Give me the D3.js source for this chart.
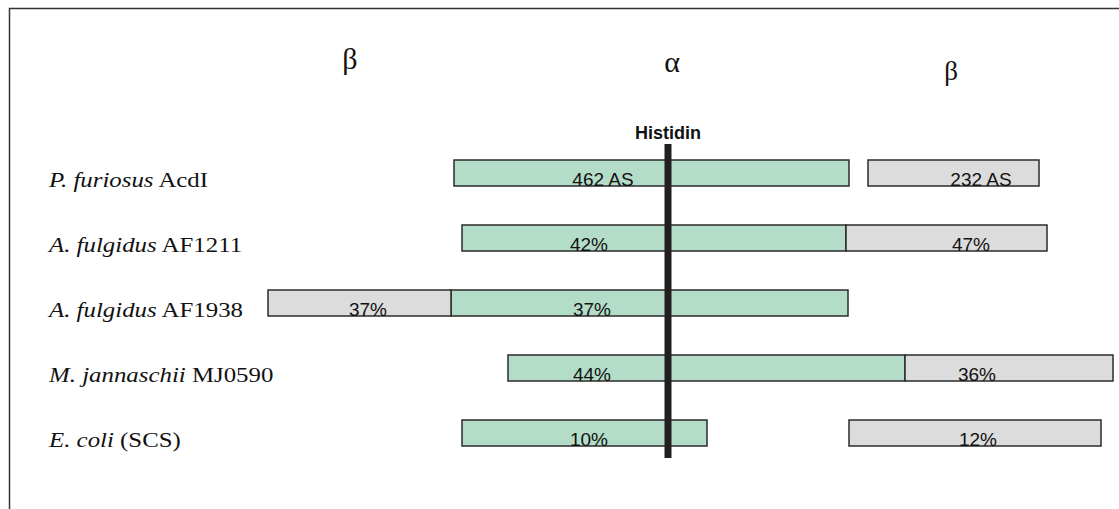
<!DOCTYPE html>
<html>
<head>
<meta charset="utf-8">
<script src="https://cdn.jsdelivr.net/npm/d3@7"></script>
<style>
  html, body { margin: 0; padding: 0; background: #fff; }
  svg { display: block; }
</style>
</head>
<body>
<div id="chart"></div>
<script>
// organisms, top to bottom: italic species part + plain strain part
const species = ["P. furiosus", "A. fulgidus", "A. fulgidus", "M. jannaschii", "E. coli"];
const strains = ["AcdI", "AF1211", "AF1938", "MJ0590", "(SCS)"];

// alpha domain (green), positions relative to the histidine (0)
const alphaStart = [-214, -206, -217, -160, -206];
const alphaEnd   = [181, 178, 180, 237, 39];
const alphaText  = ["462 AS", "42%", "37%", "44%", "10%"];
const alphaTextAt = [-65, -79, -76, -76, -79];

// beta domain (grey), may sit on either side
const betaStart = [200, 178, -400, 237, 181];
const betaEnd   = [371, 379, -217, 445, 433];
const betaText  = ["232 AS", "47%", "37%", "36%", "12%"];
const betaTextAt = [313, 303, -300, 309, 310];

// domain headings across the top
const headings = ["β", "α", "β"];
const headingAt = [-318, 4, 283];

const width = 1119;
const height = 509;
const rows = d3.range(species.length);

const svg = d3.select("#chart")
    .append("svg")
    .attr("width", width)
    .attr("height", height);

const x = d3.scaleLinear().domain([-400, 450]).range([268, 1118]);
const y = d3.scalePoint().domain(rows).range([173, 433]);
const barH = 26;

// frame (only top and left edge are visible)
svg.append("path")
    .attr("d", `M9.5,${height} V8.5 H${width}`)
    .attr("fill", "none")
    .attr("stroke", "#333")
    .attr("stroke-width", 1.5);

// headings
svg.selectAll("text.head")
    .data(headings)
    .enter()
    .append("text")
    .attr("class", "head")
    .attr("x", (d, i) => x(headingAt[i]))
    .attr("y", (d, i) => [69, 72, 80][i])
    .attr("text-anchor", "middle")
    .attr("font-family", "'Liberation Serif', 'Times New Roman', serif")
    .attr("font-size", (d, i) => [30, 30, 27][i])
    .attr("fill", "#111")
    .text(d => d);

// row labels (the source font runs a little wider)
const label = svg.selectAll("text.org")
    .data(rows)
    .enter()
    .append("text")
    .attr("class", "org")
    .attr("transform", d => `translate(49,${y(d) + 14}) scale(1.13,1)`)
    .attr("font-family", "'Liberation Serif', 'Times New Roman', serif")
    .attr("font-size", 22)
    .attr("fill", "#111");
label.append("tspan").attr("font-style", "italic").text(d => species[d]);
label.append("tspan").text(d => " " + strains[d]);

function drawSegments(cls, starts, ends, fill) {
    const g = svg.append("g").attr("class", cls);
    g.selectAll("rect")
        .data(rows)
        .enter()
        .append("rect")
        .attr("x", d => x(starts[d]))
        .attr("y", d => y(d) - barH / 2)
        .attr("width", d => x(ends[d]) - x(starts[d]))
        .attr("height", barH)
        .attr("fill", fill)
        .attr("stroke", "#2b2b2b")
        .attr("stroke-width", 1.5);
    return g;
}

drawSegments("alpha", alphaStart, alphaEnd, "#b3ddc8");
drawSegments("beta", betaStart, betaEnd, "#dcdcdc");

// histidine marker
svg.append("line")
    .attr("x1", x(0)).attr("x2", x(0))
    .attr("y1", 144).attr("y2", 458)
    .attr("stroke", "#231f20")
    .attr("stroke-width", 7);

svg.append("text")
    .attr("x", x(0))
    .attr("y", 139)
    .attr("text-anchor", "middle")
    .attr("font-family", "'Liberation Sans', Arial, sans-serif")
    .attr("font-weight", "bold")
    .attr("font-size", 18)
    .attr("fill", "#111")
    .text("Histidin");

// segment labels, drawn over the marker line
[[alphaText, alphaTextAt], [betaText, betaTextAt]].forEach(([texts, at]) => {
    svg.append("g").selectAll("text")
        .data(rows)
        .enter()
        .append("text")
        .attr("x", d => x(at[d]))
        .attr("y", d => y(d) + 13)
        .attr("text-anchor", "middle")
        .attr("font-family", "'Liberation Sans', Arial, sans-serif")
        .attr("font-size", 19)
        .attr("fill", "#111")
        .text(d => texts[d]);
});
</script>
</body>
</html>
